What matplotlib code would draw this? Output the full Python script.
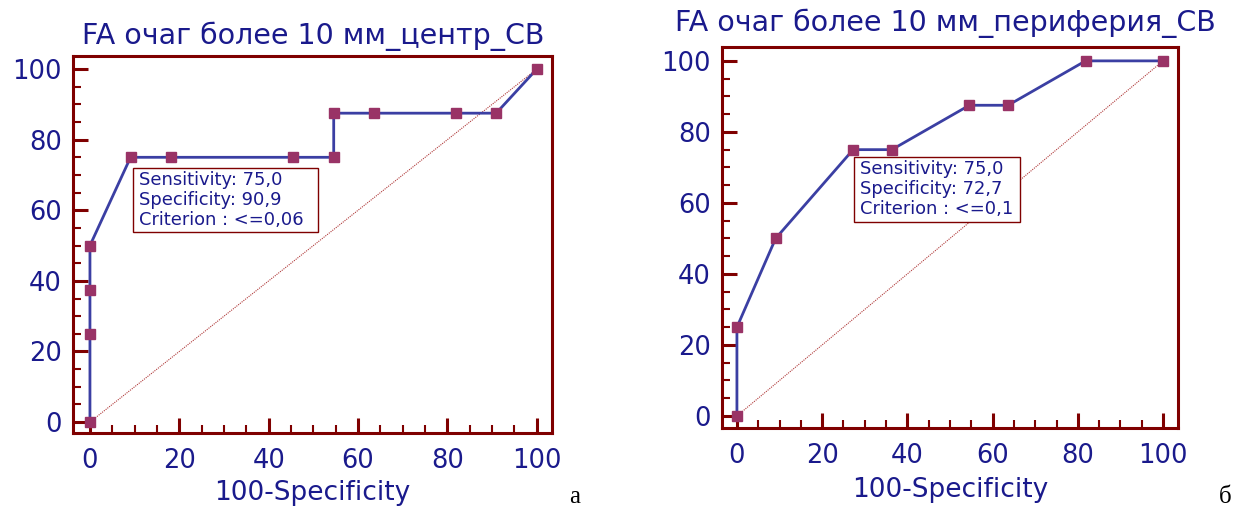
import matplotlib
matplotlib.use('Agg')
import matplotlib.pyplot as plt
from matplotlib.patches import Rectangle
from matplotlib.ticker import MultipleLocator

# ROC data (100-Specificity, Sensitivity)
fpr_center = [0, 0, 0, 0, 9.09, 18.18, 45.45, 54.55, 54.55, 63.64, 81.82, 90.91, 100]
tpr_center = [0, 25, 37.5, 50, 75, 75, 75, 75, 87.5, 87.5, 87.5, 87.5, 100]
fpr_periph = [0, 0, 9.09, 27.27, 36.36, 54.55, 63.64, 81.82, 100]
tpr_periph = [0, 25, 50, 75, 75, 87.5, 87.5, 100, 100]

titles = ["FA очаг более 10 мм_центр_CB", "FA очаг более 10 мм_периферия_CB"]
notes = [["Sensitivity: 75,0", "Specificity: 90,9", "Criterion : <=0,06"],
         ["Sensitivity: 75,0", "Specificity: 72,7", "Criterion : <=0,1"]]
panel_letters = ["а", "б"]

FRAME = '#7f0000'
LINE = '#3b3fa3'
MARK = '#993366'
TEXT = '#1a1a8c'

# wide sans font to get close to the stretched look of the original
plt.rcParams['font.family'] = ['DejaVu Sans']

fig = plt.figure(figsize=(12.41, 5.09), dpi=100)
fig.patch.set_facecolor('white')

ax1 = fig.add_axes([0.0588, 0.1493, 0.386, 0.7407])
ax2 = fig.add_axes([0.5818, 0.1591, 0.3674, 0.7485])

panels = [(ax1, fpr_center, tpr_center), (ax2, fpr_periph, tpr_periph)]
limits = [((-3.8, 103.4), (-3.1, 103.7)), ((-3.5, 103.5), (-3.4, 103.9))]
boxes = [(9.6, 53.8, 41.4, 18.2), (27.5, 54.6, 38.9, 18.4)]
label_y = [-0.158, -0.163]

for i, (ax, fx, ty) in enumerate(panels):
    ax.plot([0, 100], [0, 100], color='#b03a3a', lw=0.8, ls=(0, (1, 1)), zorder=1)
    ax.plot(fx, ty, color=LINE, lw=2.0, zorder=2)
    ax.plot(fx, ty, ls='none', marker='s', ms=7, color=MARK, zorder=3)
    ax.set_xlim(*limits[i][0])
    ax.set_ylim(*limits[i][1])
    for s in ['top', 'right', 'left', 'bottom']:
        ax.spines[s].set_color(FRAME)
        ax.spines[s].set_linewidth(2.2)
    ax.xaxis.set_major_locator(MultipleLocator(20))
    ax.yaxis.set_major_locator(MultipleLocator(20))
    ax.xaxis.set_minor_locator(MultipleLocator(5))
    ax.yaxis.set_minor_locator(MultipleLocator(5))
    ax.tick_params(which='major', direction='in', length=11, width=2.2, color=FRAME,
                   labelsize=18.5, labelcolor=TEXT)
    ax.tick_params(axis='y', which='major', pad=8)
    ax.tick_params(axis='x', which='major', pad=11)
    ax.tick_params(which='minor', direction='in', length=6, width=1.5, color=FRAME)
    ax.set_xlabel("100-Specificity", fontsize=19, color=TEXT, va='center')
    ax.xaxis.set_label_coords(0.5, label_y[i])

    bx, by, bw, bh = boxes[i]
    ax.add_patch(Rectangle((bx, by), bw, bh, facecolor='white', edgecolor=FRAME,
                           lw=1.0, zorder=4))
    for k, line in enumerate(notes[i]):
        ax.text(bx + 1.3, by + bh - 0.9 - k * 5.7, line, fontsize=12.9, color=TEXT,
                va='top', ha='left', zorder=5)

fig.text(0.2522, 0.928, titles[0], fontsize=20.5, color=TEXT, ha='center', va='center')
fig.text(0.7615, 0.955, titles[1], fontsize=20.5, color=TEXT, ha='center', va='center')
fig.text(0.463, 0.024, panel_letters[0], fontsize=18, family='Liberation Serif',
         color='black', ha='center', va='center')
fig.text(0.987, 0.024, panel_letters[1], fontsize=18, family='Liberation Serif',
         color='black', ha='center', va='center')

fig.savefig('out.png', dpi=100)
